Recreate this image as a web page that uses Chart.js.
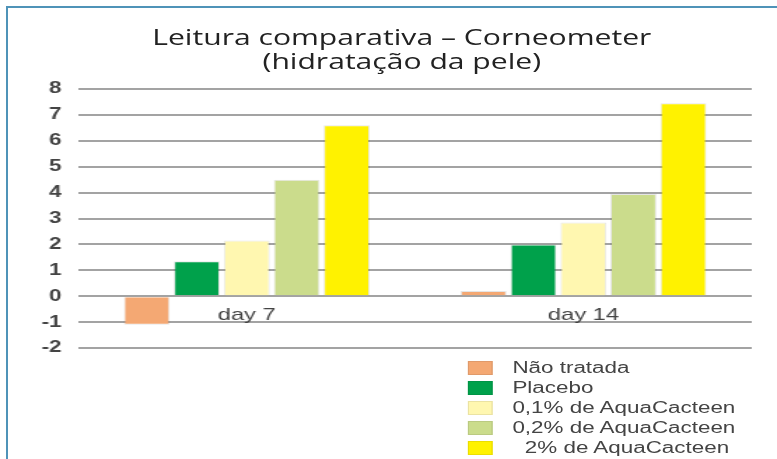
<!DOCTYPE html>
<html lang="pt">
<head>
<meta charset="utf-8">
<title>Leitura comparativa – Corneometer</title>
<script src="https://cdn.jsdelivr.net/npm/chart.js@4/dist/chart.umd.min.js"></script>
<style>
  html, body { margin: 0; padding: 0; background: #fff; }
  body { width: 777px; height: 459px; overflow: hidden; position: relative; }
  /* moldura azul (topo e esquerda) */
  #moldura {
    position: absolute; left: 6px; top: 6px; width: 800px; height: 480px;
    border-top: 2px solid #4f93b8; border-left: 2px solid #4f93b8;
  }
  /* a figura original está esticada na horizontal */
  #lienzo {
    position: absolute; left: 0; top: 0; width: 555px; height: 459px;
    transform: scaleX(1.4); transform-origin: 0 0;
  }
  #titulo {
    position: absolute; left: 0; top: 25px; width: 574px; margin: 0;
    text-align: center; font: normal 21.5px/24px "Open Sans", sans-serif; color: #222;
  }
  #leyenda {
    position: absolute; left: 334px; top: 358px;
    font: 16px "Liberation Sans", Arial, sans-serif; color: #444;
  }
  .item { height: 20px; display: flex; align-items: center; white-space: pre; }
  .caja { width: 18px; height: 14px; margin-right: 14px; box-sizing: border-box; border: 1px solid rgba(0,0,0,0.08); }
</style>
</head>
<body>
<div id="moldura"></div>
<div id="lienzo">
  <canvas id="grafico"></canvas>
  <h1 id="titulo"></h1>
  <div id="leyenda"></div>
</div>
<script>
//Título
const tituloLineas = ["Leitura comparativa – Corneometer", "(hidratação da pele)"];
//Categorías del eje x
const categorias = ["day 7", "day 14"];
//Valores de cada serie
const naoTratada = [-1.1, 0.2];
const placebo = [1.35, 2.0];
const aqua01 = [2.15, 2.85];
const aqua02 = [4.5, 3.95];
const aqua2 = [6.6, 7.45];
//Nombres y colores de las series
const nombres = ["Não tratada", "Placebo", "0,1% de AquaCacteen", "0,2% de AquaCacteen", "  2% de AquaCacteen"];
const colores = ["#f4a873", "#00a14b", "#fff7b0", "#cbdc8c", "#fff200"];
//Límites del eje y
const yMin = -2;
const yMax = 8;

const series = [naoTratada, placebo, aqua01, aqua02, aqua2];

const datasets = series.map((valores, i) => {
  return {
    label: nombres[i],
    data: valores,
    backgroundColor: colores[i],
    borderColor: "rgba(0,0,0,0.10)",
    borderWidth: 1,
    categoryPercentage: 0.742,
    barPercentage: 0.92,
  };
});

const chart = new Chart("grafico", {
  type: "bar",
  data: { labels: categorias, datasets: datasets },
  options: {
    responsive: true,
    maintainAspectRatio: false,
    animation: false,
    layout: { padding: { left: 0, right: 18, top: 89, bottom: 111 } },
    plugins: {
      legend: { display: false },
      tooltip: { enabled: false },
      title: { display: false },
    },
    scales: {
      x: {
        position: { y: 0 },
        grid: { display: false },
        border: { display: false },
        ticks: {
          color: "#444",
          padding: 1,
          font: { family: "'Liberation Sans', Arial, sans-serif", size: 17 },
        },
      },
      y: {
        min: yMin,
        max: yMax,
        afterFit: (scale) => { scale.width = 56; },
        grid: { color: "#a3a3a3", lineWidth: 2, drawTicks: false },
        border: { display: false },
        ticks: {
          stepSize: 1,
          color: "#444",
          padding: 12,
          font: { family: "'Liberation Sans', Arial, sans-serif", size: 16, weight: "bold" },
        },
      },
    },
  },
});

// Título y leyenda en HTML
document.getElementById("titulo").innerHTML = tituloLineas.join("<br>");
const leyenda = document.getElementById("leyenda");
leyenda.innerHTML = nombres.map((nombre, i) => {
  return `<div class="item"><span class="caja" style="background:${colores[i]}"></span>${nombre}</div>`;
}).join("");
</script>
</body>
</html>
